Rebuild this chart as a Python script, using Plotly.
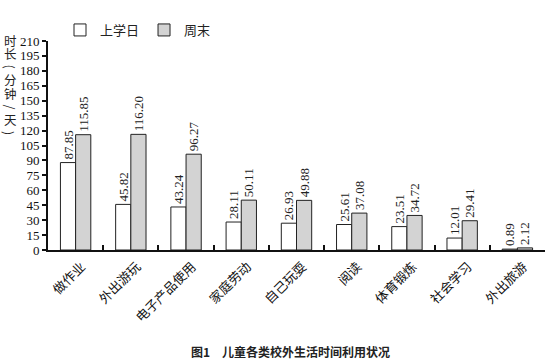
import plotly.graph_objects as go

categories = ["做作业", "外出游玩", "电子产品使用", "家庭劳动", "自己玩耍", "阅读", "体育锻炼", "社会学习", "外出旅游"]
school_day = [87.85, 45.82, 43.24, 28.11, 26.93, 25.61, 23.51, 12.01, 0.89]
weekend = [115.85, 116.20, 96.27, 50.11, 49.88, 37.08, 34.72, 29.41, 2.12]
series_names = ["上学日", "周末"]
y_ticks = list(range(0, 211, 15))
y_title_chars = ["时", "长", "(", "分", "钟", "/", "天", ")"]
y_title_rot = [0, 0, 90, 0, 0, 90, 0, 90]

FONT = "Liberation Serif, Noto Sans CJK SC, serif"
CJK = "Noto Sans CJK SC"
INK = "#222"

W, H = 560, 364
PX0, PX1, PY0, PY1 = 48, 545, 41, 250
PW, PH = PX1 - PX0, PY1 - PY0


def px(xp):
    return (xp - PX0) / PW


def py(yp):
    return (PY1 - yp) / PH


fig = go.Figure()
fig.add_trace(go.Bar(
    x=categories, y=school_day, name=series_names[0],
    marker=dict(color="white", line=dict(color=INK, width=1)),
    text=[f"{v:.2f}" for v in school_day], textposition="outside",
    textangle=-90, textfont=dict(size=13, color=INK, family=FONT),
    cliponaxis=False,
))
fig.add_trace(go.Bar(
    x=categories, y=weekend, name=series_names[1],
    marker=dict(color="#d3d3d3", line=dict(color=INK, width=1)),
    text=[f"{v:.2f}" for v in weekend], textposition="outside",
    textangle=-90, textfont=dict(size=13, color=INK, family=FONT),
    cliponaxis=False,
))

annotations = []
for i, (ch, rot) in enumerate(zip(y_title_chars, y_title_rot)):
    annotations.append(dict(
        text=ch, xref="paper", yref="paper", textangle=rot,
        x=px(10), y=py(40 + i * 13.3), xanchor="center", yanchor="middle",
        showarrow=False, font=dict(size=12.5, family=CJK, color=INK)))
annotations.append(dict(
    text="<b>图1　儿童各类校外生活时间利用状况</b>", xref="paper", yref="paper",
    x=px(290), y=py(351), xanchor="center", yanchor="middle",
    showarrow=False, font=dict(size=12, family=CJK, color=INK)))

fig.update_layout(
    width=W, height=H,
    margin=dict(l=PX0, r=W - PX1, t=PY0, b=H - PY1, autoexpand=False),
    paper_bgcolor="white", plot_bgcolor="white",
    barmode="group", bargap=0.45, bargroupgap=0,
    font=dict(family=FONT, size=13, color=INK),
    uniformtext=dict(mode="show", minsize=12),
    showlegend=True,
    legend=dict(orientation="h", x=px(60), y=py(30),
                xanchor="left", yanchor="middle",
                font=dict(size=13, family=CJK, color=INK), bgcolor="rgba(0,0,0,0)",
                itemwidth=30, tracegroupgap=0),
    xaxis=dict(
        type="category", showline=True, linecolor="#111", linewidth=2,
        ticks="inside", tickson="boundaries", ticklen=5, tickwidth=2, tickcolor="#111",
        tickangle=-45, tickfont=dict(size=13, family=CJK, color="#111"),
        ticklabelshift=6, ticklabelstandoff=2,
        showgrid=False, zeroline=False, automargin=False,
    ),
    yaxis=dict(
        range=[0, 210], tickvals=y_ticks, showline=True, linecolor="#111", linewidth=2,
        ticks="outside", ticklen=4, tickwidth=2, tickcolor="#111",
        tickfont=dict(size=13, color="#111"), showgrid=False, zeroline=False, automargin=False,
    ),
    annotations=annotations,
)

fig.write_html("out.html", config={"displayModeBar": False},
               post_script="document.body.style.margin='0';")
